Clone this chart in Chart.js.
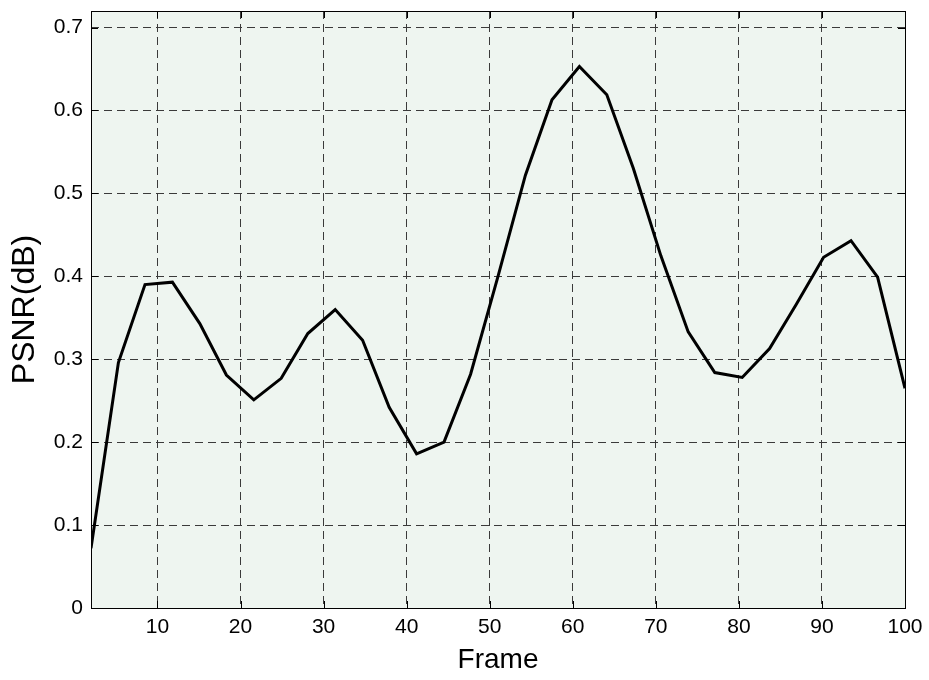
<!DOCTYPE html>
<html>
<head>
<meta charset="utf-8">
<script src="https://cdn.jsdelivr.net/npm/chart.js@4/dist/chart.umd.min.js"></script>
<style>
  html, body { margin: 0; padding: 0; background: #fff; }
  #wrap { width: 929px; height: 680px; position: relative; }
</style>
</head>
<body>
<div id="wrap"><canvas id="psnr-chart" width="929" height="680"></canvas></div>
<script>
// Values.
const frames = [2, 5.3, 8.5, 11.8, 15.1, 18.3, 21.6, 24.9, 28.1, 31.4, 34.7, 37.9, 41.2, 44.5, 47.7,
  51, 54.3, 57.5, 60.8, 64.1, 67.3, 70.6, 73.9, 77.1, 80.4, 83.7, 86.9, 90.2, 93.5, 96.7, 100];
const psnr = [0.072, 0.296, 0.390, 0.393, 0.343, 0.281, 0.251, 0.277, 0.331, 0.360, 0.323, 0.242, 0.186, 0.200, 0.282,
  0.400, 0.522, 0.613, 0.653, 0.619, 0.530, 0.425, 0.333, 0.284, 0.278, 0.313, 0.366, 0.423, 0.443, 0.399, 0.265];
const xTicks = [10, 20, 30, 40, 50, 60, 70, 80, 90, 100];
const yTicks = [0, 0.1, 0.2, 0.3, 0.4, 0.5, 0.6, 0.7];

const FONT = "'Liberation Sans', Arial, Helvetica, sans-serif";

// light plot background plus the MATLAB-ish box with inward tick marks
const boxPlugin = {
  id: "box",
  beforeDraw(chart) {
    const { ctx, chartArea: a } = chart;
    ctx.save();
    ctx.fillStyle = "#eef5f0";
    ctx.fillRect(a.left, a.top, a.right - a.left, a.bottom - a.top);
    ctx.restore();
  },
  afterDraw(chart) {
    const { ctx, chartArea: a, scales } = chart;
    const len = 7;
    ctx.save();
    ctx.strokeStyle = "#000";
    ctx.lineWidth = 1;
    ctx.beginPath();
    xTicks.forEach((v) => {
      const x = Math.round(scales.x.getPixelForValue(v)) + 0.5;
      ctx.moveTo(x, a.bottom); ctx.lineTo(x, a.bottom - len);
      ctx.moveTo(x, a.top); ctx.lineTo(x, a.top + len);
    });
    yTicks.forEach((v) => {
      const y = Math.round(scales.y.getPixelForValue(v)) + 0.5;
      ctx.moveTo(a.left, y); ctx.lineTo(a.left + len, y);
      ctx.moveTo(a.right, y); ctx.lineTo(a.right - len, y);
    });
    ctx.stroke();
    ctx.strokeRect(Math.round(a.left) + 0.5, Math.round(a.top) + 0.5,
      Math.round(a.right - a.left), Math.round(a.bottom - a.top));
    ctx.restore();
  },
};

// grid lines are dashed through border.dash in Chart.js v4
const gridStyle = { color: "#3a3a3a", lineWidth: 1, drawTicks: false };
const borderStyle = { display: false, dash: [8, 5] };

new Chart(document.getElementById("psnr-chart"), {
  type: "line",
  data: {
    datasets: [
      {
        label: "PSNR",
        data: frames.map((f, i) => ({ x: f, y: psnr[i] })),
        borderColor: "#000",
        borderWidth: 3,
        pointRadius: 0,
        tension: 0,
        fill: false,
      },
    ],
  },
  options: {
    responsive: false,
    animation: false,
    layout: { padding: { left: 0, top: 11, right: 24, bottom: 0 } },
    plugins: {
      legend: { display: false },
      tooltip: { enabled: false },
    },
    scales: {
      x: {
        type: "linear",
        min: 2,
        max: 100,
        afterBuildTicks: (s) => { s.ticks = xTicks.map((v) => ({ value: v })); },
        afterFit: (s) => { s.height = 72; s.paddingLeft = 0; s.paddingRight = 0; },
        grid: gridStyle,
        border: borderStyle,
        ticks: {
          color: "#000",
          padding: 7,
          maxRotation: 0,
          font: { family: FONT, size: 21 },
          callback: (v) => String(v),
        },
        title: {
          display: true,
          text: "Frame",
          color: "#000",
          font: { family: FONT, size: 28 },
          padding: { top: 0, bottom: 3 },
        },
      },
      y: {
        min: 0,
        max: 0.72,
        afterBuildTicks: (s) => { s.ticks = yTicks.map((v) => ({ value: v })); },
        afterFit: (s) => { s.width = 91; s.paddingTop = 0; s.paddingBottom = 0; },
        grid: gridStyle,
        border: borderStyle,
        ticks: {
          color: "#000",
          padding: 8,
          font: { family: FONT, size: 21 },
          callback: (v) => (v === 0 ? "0" : v.toFixed(1)),
        },
        title: {
          display: true,
          text: "PSNR(dB)",
          color: "#000",
          font: { family: FONT, size: 32 },
          padding: { top: 6, bottom: 0 },
        },
      },
    },
  },
  plugins: [boxPlugin],
});
</script>
</body>
</html>
